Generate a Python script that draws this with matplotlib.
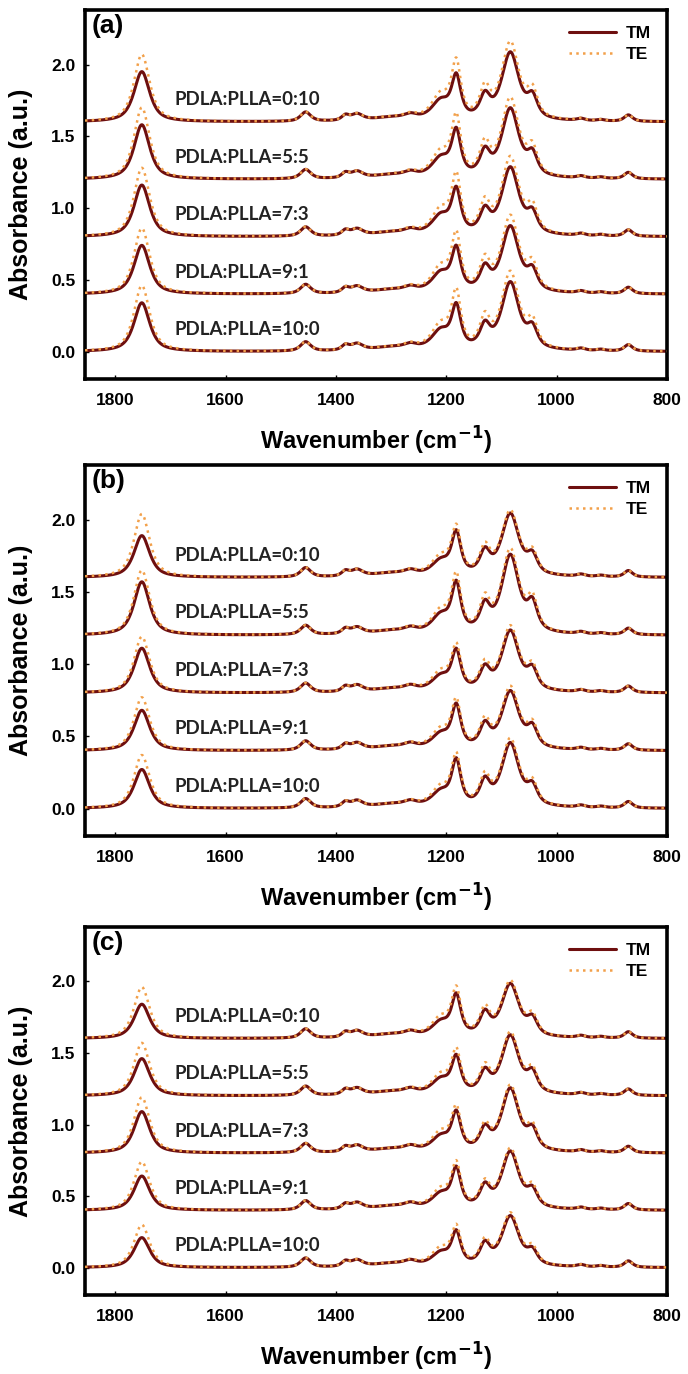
import numpy as np
import matplotlib
matplotlib.use("Agg")
import matplotlib.pyplot as plt

plt.rcParams['font.family'] = ['Liberation Sans', 'DejaVu Sans']

# ---------------- data ----------------
ratios = ["PDLA:PLLA=10:0", "PDLA:PLLA=9:1", "PDLA:PLLA=7:3",
          "PDLA:PLLA=5:5", "PDLA:PLLA=0:10"]
offsets = [0.0, 0.4, 0.8, 1.2, 1.6]
panel_tags = ["(a)", "(b)", "(c)"]

# absorption bands: centre (cm-1) and half width
main_centers = [1752, 1210, 1182, 1130, 1084, 1044]
main_hwhm = [17, 20, 10, 11, 19, 11]
minor_centers = [1455, 1383, 1362, 1300, 1265, 956, 920, 870]
minor_hwhm = [11, 8, 13, 40, 14, 9, 9, 9]
minor_heights = [0.065, 0.035, 0.045, 0.025, 0.03, 0.015, 0.01, 0.045]

# main band heights, rows = ratios (10:0 ... 0:10), cols = main_centers
a_tm = [[0.34, 0.13, 0.28, 0.15, 0.47, 0.13],
        [0.34, 0.13, 0.28, 0.15, 0.46, 0.13],
        [0.36, 0.13, 0.29, 0.15, 0.47, 0.13],
        [0.38, 0.13, 0.30, 0.16, 0.48, 0.14],
        [0.35, 0.13, 0.28, 0.15, 0.47, 0.14]]
a_te = [[0.46, 0.17, 0.37, 0.20, 0.54, 0.17],
        [0.46, 0.17, 0.37, 0.20, 0.53, 0.17],
        [0.48, 0.17, 0.38, 0.20, 0.54, 0.17],
        [0.50, 0.17, 0.39, 0.21, 0.55, 0.18],
        [0.47, 0.17, 0.37, 0.20, 0.54, 0.18]]
b_tm = [[0.27, 0.10, 0.30, 0.16, 0.44, 0.12],
        [0.28, 0.10, 0.28, 0.15, 0.40, 0.13],
        [0.31, 0.10, 0.26, 0.14, 0.42, 0.13],
        [0.37, 0.12, 0.32, 0.17, 0.54, 0.18],
        [0.29, 0.10, 0.28, 0.15, 0.43, 0.12]]
b_te = [[0.37, 0.13, 0.33, 0.19, 0.47, 0.14],
        [0.37, 0.13, 0.31, 0.18, 0.43, 0.15],
        [0.39, 0.13, 0.29, 0.17, 0.45, 0.15],
        [0.45, 0.15, 0.37, 0.21, 0.58, 0.21],
        [0.44, 0.13, 0.31, 0.18, 0.45, 0.14]]
c_tm = [[0.21, 0.09, 0.22, 0.14, 0.35, 0.09],
        [0.24, 0.10, 0.26, 0.14, 0.40, 0.11],
        [0.29, 0.10, 0.25, 0.14, 0.44, 0.13],
        [0.26, 0.10, 0.24, 0.14, 0.41, 0.13],
        [0.24, 0.10, 0.27, 0.15, 0.37, 0.11]]
c_te = [[0.30, 0.12, 0.25, 0.16, 0.37, 0.11],
        [0.34, 0.13, 0.29, 0.16, 0.42, 0.13],
        [0.39, 0.13, 0.28, 0.16, 0.46, 0.15],
        [0.37, 0.13, 0.28, 0.17, 0.43, 0.15],
        [0.36, 0.13, 0.31, 0.18, 0.39, 0.13]]

panels_tm = [a_tm, b_tm, c_tm]
panels_te = [a_te, b_te, c_te]

# ---------------- drawing ----------------
wn = np.linspace(1855, 800, 2111)


def band(center, hwhm, height, eta=0.75):
    d = (wn - center) / hwhm
    lor = 1.0 / (1.0 + d ** 2)
    gau = np.exp(-np.log(2) * d ** 2)
    return height * (eta * lor + (1 - eta) * gau)


def spectrum(main_heights):
    y = np.zeros_like(wn)
    for c, w, h in zip(main_centers, main_hwhm, main_heights):
        y += band(c, w, h)
    for c, w, h in zip(minor_centers, minor_hwhm, minor_heights):
        y += band(c, w, h)
    return y


TM_COLOR = '#6e0f0f'
TE_COLOR = '#f2a04a'

fig = plt.figure(figsize=(6.88, 13.74), dpi=100)
H = 1374.0
W = 688.0
boxes = [(10, 379), (465, 836), (927, 1295)]
left_px, right_px = 85, 667

for p in range(3):
    top, bot = boxes[p]
    ax = fig.add_axes([left_px / W, 1 - bot / H, (right_px - left_px) / W, (bot - top) / H])
    for i in range(5):
        off = offsets[i]
        ax.plot(wn, spectrum(panels_tm[p][i]) + off, color=TM_COLOR, lw=2.2,
                solid_capstyle='round', zorder=2, label='TM' if i == 0 else None)
        ax.plot(wn, spectrum(panels_te[p][i]) + off, color=TE_COLOR, lw=1.8,
                linestyle=(0, (1, 1.7)), zorder=3, label='TE' if i == 0 else None)
        ax.text(1693, off + 0.155, ratios[i], fontsize=13.5, fontweight='bold',
                family=['Lato', 'DejaVu Sans'], color='#222222', ha='left', va='center',
                zorder=4)
    ax.set_xlim(1855, 800)
    ax.set_ylim(-0.19, 2.38)
    ax.set_xticks([1800, 1600, 1400, 1200, 1000, 800])
    ax.set_yticks([0.0, 0.5, 1.0, 1.5, 2.0])
    ax.set_yticklabels(['0.0', '0.5', '1.0', '1.5', '2.0'])
    ax.tick_params(direction='in', length=3, width=1, labelsize=12.5)
    ax.tick_params(axis='x', pad=10)
    ax.tick_params(axis='y', pad=7)
    for lab in ax.get_xticklabels() + ax.get_yticklabels():
        lab.set_fontweight('bold')
    for s in ax.spines.values():
        s.set_linewidth(2.6)
    ax.set_xlabel('Wavenumber (cm$^{\\mathbf{-1}}$)', fontsize=17, fontweight='bold', labelpad=12)
    ax.set_ylabel('Absorbance (a.u.)', fontsize=18, fontweight='bold')
    ax.yaxis.set_label_coords(-0.09, 0.5)
    ax.text(0.012, 0.99, panel_tags[p], transform=ax.transAxes, fontsize=19,
            fontweight='bold', ha='left', va='top')
    leg = ax.legend(loc='upper right', frameon=False, handlelength=2.7,
                    borderaxespad=0.5, labelspacing=0.35, handletextpad=0.6,
                    prop={'weight': 'bold', 'size': 12.5})

fig.savefig('out.png', dpi=100)
